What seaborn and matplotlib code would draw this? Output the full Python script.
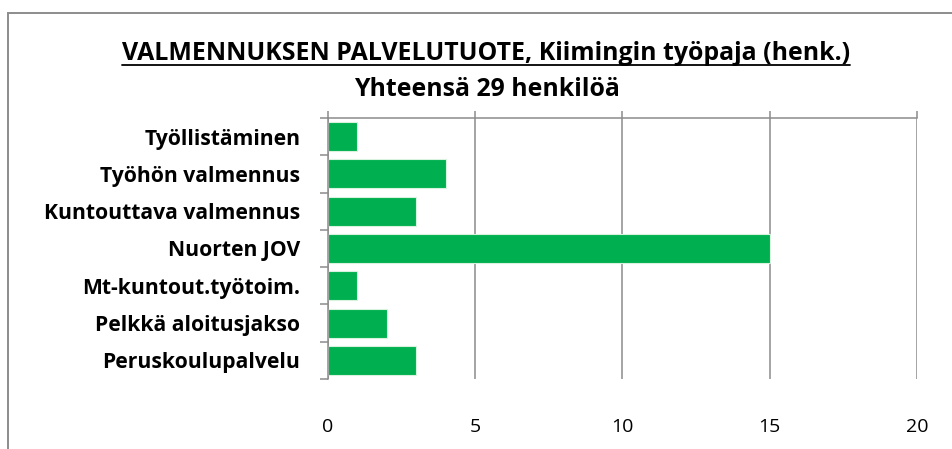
import matplotlib
matplotlib.use("Agg")
import matplotlib.pyplot as plt
import seaborn as sns
import pandas as pd
import numpy as np
from matplotlib.lines import Line2D
from matplotlib.patches import Rectangle

# data
categories = ["Työllistäminen", "Työhön valmennus", "Kuntouttava valmennus",
              "Nuorten JOV", "Mt-kuntout.työtoim.", "Pelkkä aloitusjakso",
              "Peruskoulupalvelu"]
counts = [1, 4, 3, 15, 1, 2, 3]
x_ticks = [0, 5, 10, 15, 20]

title_1 = "VALMENNUKSEN PALVELUTUOTE, Kiimingin työpaja (henk.)"
title_2 = "Yhteensä 29 henkilöä"

sns.set_style("white")
plt.rcParams['font.family'] = ['Open Sans', 'DejaVu Sans']
plt.rcParams['text.color'] = 'black'

df = pd.DataFrame({"palvelu": categories, "henk": counts})

fig = plt.figure(figsize=(9.53, 4.49), dpi=100)
ax = fig.add_axes([0.3442, 0.1559, 0.618, 0.5813])

sns.barplot(data=df, y="palvelu", x="henk", orient="h", color="#00B050",
            saturation=1, width=0.78, edgecolor="#d9f2e0", linewidth=0.8, ax=ax)

gray = "#8c8c8c"
ax.set_xlim(0, 20)
ax.set_ylim(len(categories) - 0.5, -0.5)
ax.set_xticks(x_ticks)
ax.set_xticklabels([str(v) for v in x_ticks])
ax.xaxis.grid(True, color=gray, linewidth=1.1)
ax.set_axisbelow(True)
ax.set_xlabel("")
ax.set_ylabel("")

for side in ["right", "bottom"]:
    ax.spines[side].set_visible(False)
for side in ["left", "top"]:
    ax.spines[side].set_color(gray)
    ax.spines[side].set_linewidth(1.1)

ax.tick_params(axis='x', top=True, bottom=False, labeltop=False, labelbottom=True,
               direction='out', length=5, color=gray, width=1.1, pad=23,
               labelsize=14, labelcolor='black')
ax.set_yticks(np.arange(-0.5, len(categories)), minor=True)
ax.tick_params(axis='y', which='minor', left=True, length=6, color=gray, width=1.1)
ax.tick_params(axis='y', which='major', length=0, pad=20, labelsize=15.2,
               labelcolor='black')
for lab in ax.get_yticklabels():
    lab.set_fontweight('bold')

# chart frame (only left and top edges are inside the picture)
fig.add_artist(Rectangle((8 / 953, -0.1), 1.2, 1 - 13 / 449 + 0.1,
                         transform=fig.transFigure, fill=False,
                         edgecolor=gray, linewidth=1.4))

t1 = fig.text(0.51, 1 - 54 / 449, title_1, ha='center', va='center',
              fontsize=17.9, fontweight='bold')
fig.text(0.511, 1 - 89 / 449, title_2, ha='center', va='center',
         fontsize=17.9, fontweight='bold')

# underline under the first title line
fig.canvas.draw()
bb = t1.get_window_extent().transformed(fig.transFigure.inverted())
fig.add_artist(Line2D([bb.x0, bb.x1], [bb.y0 + 0.004, bb.y0 + 0.004],
                      transform=fig.transFigure, color="black", linewidth=1.3))

fig.savefig("out.png", dpi=100)
